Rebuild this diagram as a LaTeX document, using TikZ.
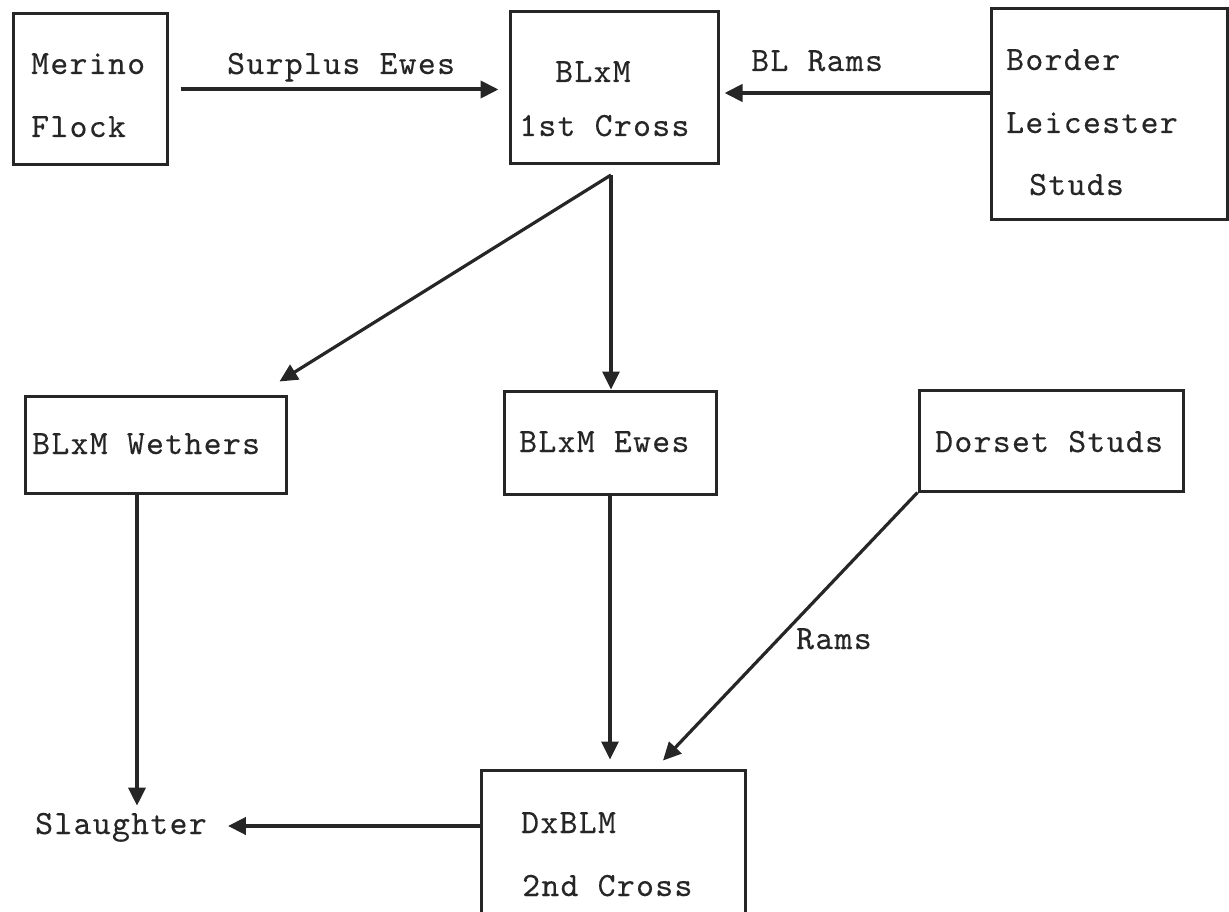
\documentclass[tikz,border=0pt]{standalone}
\usepackage{fontspec}
\newfontfamily\tw{lmmono10-regular.otf}[LetterSpace=4,FakeBold=0.25]
\usetikzlibrary{arrows.meta,calc}
\begin{document}
\begin{tikzpicture}[x=1pt,y=-1pt,
  box/.style={draw=black!85, line width=3pt, rectangle, inner sep=0pt},
  txt/.style={anchor=base west, inner sep=0pt, text=black!85, font=\tw\fontsize{34}{40}\selectfont},
  arr/.style={draw=black!85, line width=3.2pt, -{Triangle[length=18pt,width=17pt]}},
  harr/.style={arr, line width=4pt}
]
\useasboundingbox (0,0) rectangle (1229,912);
\fill[white] (0,0) rectangle (1229,912);

% boxes
\node[box, minimum width=154pt, minimum height=151pt] (merino) at (90,89.5) {};
\node[box, minimum width=208pt, minimum height=152pt] (cross1) at (614,88) {};
\node[box, minimum width=236pt, minimum height=211pt] (border) at (1109,114.5) {};
\node[box, minimum width=261pt, minimum height=97pt] (wethers) at (155.5,444.5) {};
\node[box, minimum width=212pt, minimum height=103pt] (ewes) at (610,442.5) {};
\node[box, minimum width=264pt, minimum height=101pt] (dorset) at (1051,440.5) {};
\node[box, minimum width=264pt, minimum height=143pt] (cross2) at (613,841.5) {};

% texts
\node[txt] (tmerino) at (31,74) {Merino};
\node[txt] (tflock) at (31,137) {Flock};
\node[txt] (tblxm) at (555,82) {BLxM};
\node[txt] (tfirst) at (519,136) {1st Cross};
\node[txt] (tborder) at (1006,70) {Border};
\node[txt] (tleic) at (1006,133) {Leicester};
\node[txt] (tstuds) at (1029,195) {Studs};
\node[txt] (twethers) at (32,454) {BLxM Wethers};
\node[txt] (tewes) at (519,452) {BLxM Ewes};
\node[txt] (tdorset) at (935,452) {Dorset Studs};
\node[txt] (tdx) at (521,833) {DxBLM};
\node[txt] (tsecond) at (522,896) {2nd Cross};
\node[txt] (slaughter) at (35,834) {Slaughter};

% edge labels
\node[txt] (lsurplus) at (227,74) {Surplus Ewes};
\node[txt] (lblrams) at (751,71) {BL Rams};
\node[txt] (lrams) at (796,649) {Rams};

% helper coordinates
\coordinate (split) at (611,175);
\coordinate (wl) at (137,0);
\coordinate (brl) at ($(border.west)+(0,-21.5)$);
\coordinate (sl) at ($(cross2.west)+(0,-15.5)$);

% connectors
\draw[harr, shorten <=12pt, shorten >=10pt] (merino.east) -- (merino.east -| cross1.west);
\draw[harr, shorten >=5pt] (brl) -- (brl -| cross1.east);
\draw[arr] (split) -- ([shift={(-8,-13)}]wethers.north east);
\draw[arr] (split) -- (split |- ewes.north);
\draw[arr, shorten >=7pt] (wethers.south -| wl) -- (wl |- slaughter.north);
\draw[arr, shorten >=9pt] (ewes.south) -- (ewes.south |- cross2.north);
\draw[arr] (dorset.south west) -- ([shift={(50,-8)}]cross2.north);
\draw[harr, shorten >=21pt] (sl) -- (sl -| slaughter.east);
\end{tikzpicture}
\end{document}
